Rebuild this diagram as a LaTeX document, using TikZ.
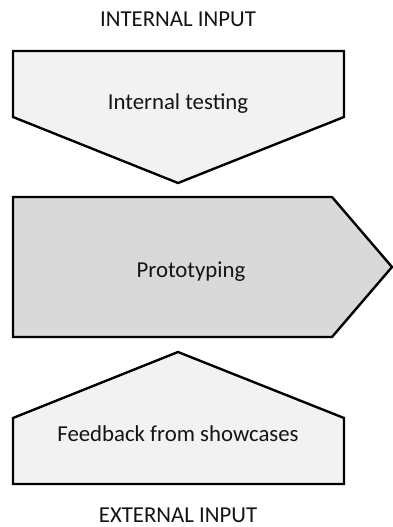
\documentclass[tikz,border=0pt]{standalone}
\usepackage{fontspec}
\setmainfont{Carlito}
\definecolor{paleFill}{HTML}{F2F2F2}
\definecolor{midFill}{HTML}{D9D9D9}
\definecolor{inkText}{HTML}{141414}
\begin{document}
\begin{tikzpicture}[x=1pt,y=-1pt,
  panel/.style={draw=black, line width=2.4pt, line join=miter},
  lbl/.style={font=\fontsize{22.8}{26}\selectfont, text=inkText, inner sep=0pt, anchor=base}]
\useasboundingbox (0,0) rectangle (393,527);
\begin{scope}
\clip (0,0) rectangle (393,527);
% top chevron pointing down
\path[panel, fill=paleFill] (13,51) -- (344,51) -- (344,117) -- (178,183) -- (13,117) -- cycle;
% central block pointing right
\path[panel, fill=midFill] (13,197) -- (332,197) -- (392,267) -- (332,337) -- (13,337) -- cycle;
% bottom block pointing up
\path[panel, fill=paleFill] (13,418) -- (178,352) -- (344,418) -- (344,484) -- (13,484) -- cycle;
\end{scope}
% labels
\node[lbl] (inTop) at (178,26.5) {INTERNAL INPUT};
\node[lbl] (test) at (178,109.3) {Internal testing};
\node[lbl] (proto) at (191,277) {Prototyping};
\node[lbl] (feed) at (178,441.7) {Feedback from showcases};
\node[lbl] (exBot) at (178,522) {EXTERNAL INPUT};
\end{tikzpicture}
\end{document}
